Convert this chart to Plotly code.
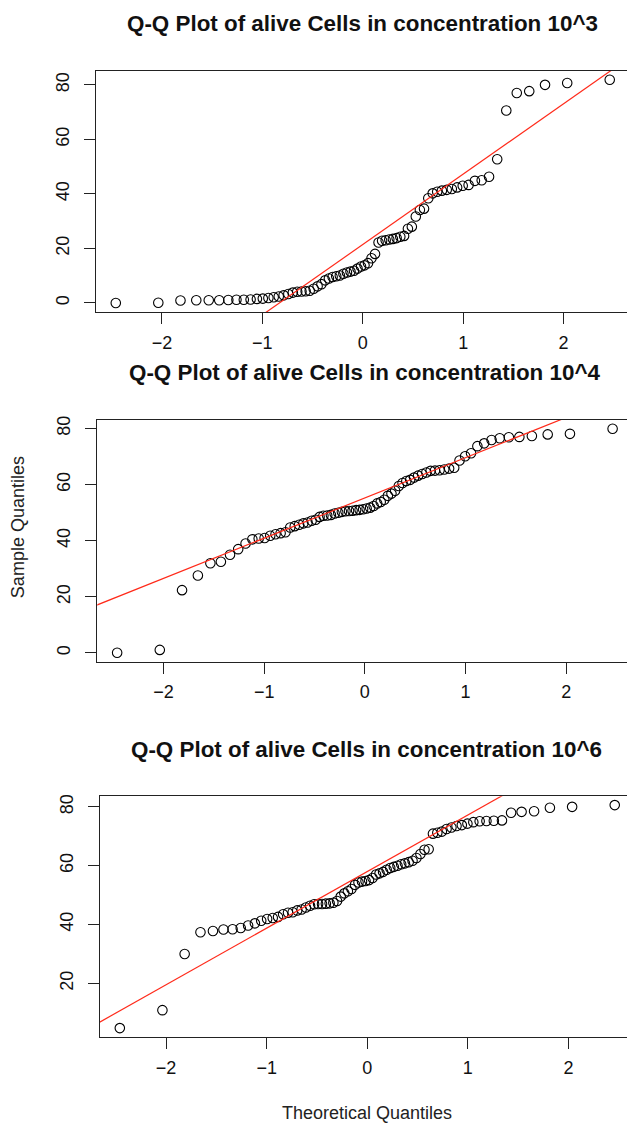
import numpy as np
import plotly.graph_objects as go

# Theoretical normal quantiles (n = 72)
theoretical_q = [
    -2.4600, -2.0365, -1.8155, -1.6583, -1.5341, -1.4297, -1.3391, -1.2581, -1.1847,
    -1.1172, -1.0543, -0.9956, -0.9399, -0.8871, -0.8366, -0.7881, -0.7415, -0.6965,
    -0.6528, -0.6103, -0.5688, -0.5284, -0.4888, -0.4499, -0.4117, -0.3741, -0.3371,
    -0.3004, -0.2641, -0.2282, -0.1927, -0.1573, -0.1222, -0.0872, -0.0523, -0.0174,
    0.0174, 0.0523, 0.0872, 0.1222, 0.1573, 0.1927, 0.2282, 0.2641, 0.3004,
    0.3371, 0.3741, 0.4117, 0.4499, 0.4888, 0.5284, 0.5688, 0.6103, 0.6528,
    0.6965, 0.7415, 0.7881, 0.8366, 0.8871, 0.9399, 0.9956, 1.0543, 1.1172,
    1.1847, 1.2581, 1.3391, 1.4297, 1.5341, 1.6583, 1.8155, 2.0365, 2.4600,
]

# Sample quantiles (sorted alive-cell values) for each concentration
alive_1e3 = [
    0.0, 0.1, 0.9, 1.0, 1.0, 1.0, 1.1, 1.2, 1.2, 1.3, 1.5, 1.6, 1.8, 2.1, 2.4, 2.8,
    3.3, 3.8, 4.1, 4.2, 4.3, 4.5, 5.2, 6.1, 6.9, 8.3, 9.0, 9.5, 9.8, 10.1, 10.7, 11.2,
    11.5, 11.8, 12.6, 13.4, 13.8, 14.6, 16.4, 18.0, 22.2, 22.8, 23.0, 23.3, 23.5, 23.8,
    24.3, 24.6, 27.2, 28.0, 31.7, 34.1, 34.6, 38.4, 40.2, 40.8, 41.2, 41.5, 41.8, 42.4,
    43.0, 43.3, 44.8, 45.0, 46.3, 52.7, 70.6, 77.0, 77.7, 80.0, 80.7, 81.9,
]
alive_1e4 = [
    0.1, 1.1, 22.4, 27.6, 32.0, 32.5, 35.0, 37.0, 39.0, 40.5, 40.8, 41.0, 41.8, 42.3,
    42.7, 43.0, 44.7, 45.2, 45.7, 46.2, 46.5, 47.1, 47.5, 48.5, 48.9, 49.0, 49.2, 49.7,
    50.0, 50.3, 50.5, 50.6, 50.7, 50.9, 51.0, 51.2, 51.5, 51.8, 52.4, 53.3, 53.8, 54.6,
    56.0, 56.8, 57.8, 59.5, 60.6, 61.3, 61.7, 62.5, 63.2, 63.8, 64.3, 64.9, 65.0, 65.1,
    65.4, 65.7, 66.0, 68.6, 70.1, 71.2, 73.7, 74.7, 75.9, 76.5, 76.9, 77.0, 77.3, 77.9,
    78.1, 79.9,
]
alive_1e6 = [
    4.8, 10.9, 30.0, 37.4, 37.8, 38.3, 38.4, 38.8, 39.7, 40.4, 41.3, 41.9, 42.2, 42.6,
    43.5, 44.0, 44.2, 44.8, 45.1, 45.8, 46.4, 46.9, 47.0, 47.0, 47.1, 47.2, 47.4, 48.0,
    49.5, 50.6, 51.3, 52.1, 53.5, 54.3, 54.6, 54.8, 55.1, 55.8, 57.0, 57.4, 57.9, 58.6,
    59.2, 59.6, 60.0, 60.5, 60.8, 61.2, 61.7, 62.6, 64.0, 65.4, 65.6, 70.9, 71.2, 71.6,
    72.5, 73.0, 73.5, 73.8, 74.3, 74.8, 75.1, 75.2, 75.3, 75.4, 78.0, 78.3, 78.5, 79.7,
    80.0, 80.6,
]

titles = [
    "Q-Q Plot of alive Cells in concentration 10^3",
    "Q-Q Plot of alive Cells in concentration 10^4",
    "Q-Q Plot of alive Cells in concentration 10^6",
]
x_tick_vals = [-2, -1, 0, 1, 2]
y_tick_vals = [[0, 20, 40, 60, 80], [0, 20, 40, 60, 80], [20, 40, 60, 80]]
NORMAL_Q1, NORMAL_Q3 = -0.6745, 0.6745

W, H = 627, 1126
# layout of the three panels (pixel geometry)
panels = [
    dict(left=96.0, top=67.0, bottom=309.0, xr=[-2.657, 2.632]),
    dict(left=97.3, top=417.3, bottom=660.0, xr=[-2.657, 2.603]),
    dict(left=100.0, top=795.0, bottom=1036.7, xr=[-2.657, 2.582]),
]
series = [alive_1e3, alive_1e4, alive_1e6]

FONT = "Liberation Sans, Arial, Helvetica, sans-serif"
fig = go.Figure()
annotations = []

for k, (p, ys) in enumerate(zip(panels, series)):
    n = k + 1
    xa = "x" if n == 1 else f"x{n}"
    ya = "y" if n == 1 else f"y{n}"
    fig.add_trace(go.Scatter(
        x=theoretical_q, y=ys, mode="markers", xaxis=xa, yaxis=ya,
        marker=dict(symbol="circle-open", size=9.5, color="black", line=dict(width=1.1, color="black")),
        showlegend=False, hoverinfo="x+y",
    ))
    # qqline: line through first and third quartiles
    q1, q3 = np.percentile(ys, [25, 75])
    slope = (q3 - q1) / (NORMAL_Q3 - NORMAL_Q1)
    inter = q1 - slope * NORMAL_Q1
    lx = [p["xr"][0] - 1, p["xr"][1] + 1]
    ly = [inter + slope * v for v in lx]
    fig.add_trace(go.Scatter(
        x=lx, y=ly, mode="lines", xaxis=xa, yaxis=ya,
        line=dict(color="#ff2a1a", width=1.2), showlegend=False, hoverinfo="skip",
    ))
    ymin, ymax = min(ys), max(ys)
    ext = 0.04 * (ymax - ymin)
    dom_x = [p["left"] / W, 1.0]
    dom_y = [1 - p["bottom"] / H, 1 - p["top"] / H]
    fig.update_layout(**{
        ("xaxis" if n == 1 else f"xaxis{n}"): dict(
            domain=dom_x, anchor=ya, range=p["xr"], tickvals=x_tick_vals,
            ticks="outside", ticklen=11, tickwidth=1, tickcolor="#222",
            showline=True, linecolor="#222", linewidth=1.2, mirror=True,
            showgrid=False, zeroline=False,
            tickfont=dict(family=FONT, size=18, color="#111"), ticklabelstandoff=3,
        ),
        ("yaxis" if n == 1 else f"yaxis{n}"): dict(
            domain=dom_y, anchor=xa, range=[ymin - ext, ymax + ext], tickvals=y_tick_vals[k],
            ticks="outside", ticklen=11, tickwidth=1, tickcolor="#222",
            showline=True, linecolor="#222", linewidth=1.2, mirror=False,
            showgrid=False, zeroline=False, tickangle=-90,
            tickfont=dict(family=FONT, size=18, color="#111"), ticklabelstandoff=8,
        ),
    })
    center_x = p["left"] + 266.8
    annotations.append(dict(
        text=f"<b>{titles[k]}</b>", xref="paper", yref="paper",
        x=center_x / W, y=1 - (p["top"] - 47) / H, xanchor="center", yanchor="middle",
        showarrow=False, font=dict(family=FONT, size=22.4, color="#111"),
    ))

annotations.append(dict(
    text="Sample Quantiles", xref="paper", yref="paper", x=18 / W, y=1 - 525 / H,
    xanchor="center", yanchor="middle", textangle=-90, showarrow=False,
    font=dict(family=FONT, size=18, color="#222"),
))
annotations.append(dict(
    text="Theoretical Quantiles", xref="paper", yref="paper", x=367 / W, y=1 - 1113 / H,
    xanchor="center", yanchor="middle", showarrow=False,
    font=dict(family=FONT, size=18, color="#222"),
))

fig.update_layout(
    width=W, height=H, margin=dict(l=0, r=0, t=0, b=0),
    paper_bgcolor="white", plot_bgcolor="white",
    annotations=annotations,
)
fig.write_html("out.html")
